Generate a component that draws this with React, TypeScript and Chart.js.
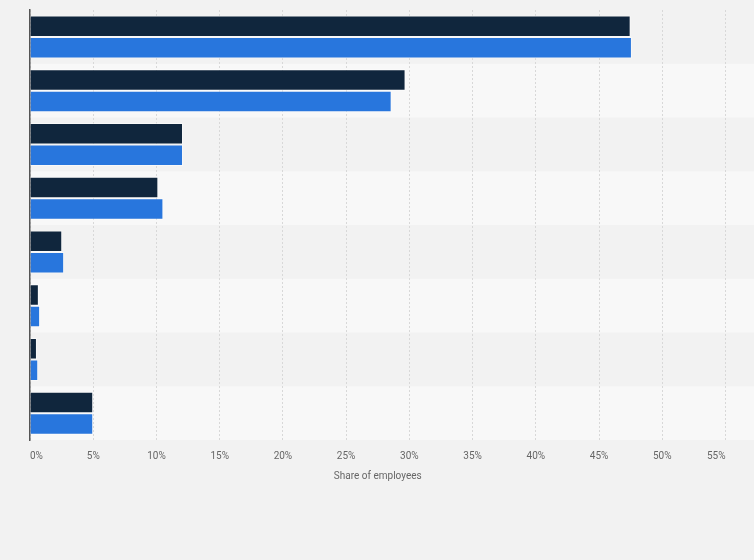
import React, { useEffect, useRef } from "react";
import { Chart, registerables } from "chart.js";

Chart.register(...registerables);

const categories = ["Group 1", "Group 2", "Group 3", "Group 4", "Group 5", "Group 6", "Group 7", "Group 8"];
const seriesDark = [47.5, 29.7, 12.1, 10.15, 2.55, 0.7, 0.55, 5.0];
const seriesBlue = [47.6, 28.6, 12.1, 10.55, 2.7, 0.8, 0.65, 5.0];
const seriesDarkName = "Series 1";
const seriesBlueName = "Series 2";
const xTicks = [0, 5, 10, 15, 20, 25, 30, 35, 40, 45, 50, 55];

const bandPlugin = {
  id: "bands",
  beforeDraw(chart: any) {
    const { ctx, chartArea, scales } = chart;
    ctx.save();
    ctx.fillStyle = "#f2f2f2";
    ctx.fillRect(0, 0, chart.width, chart.height);
    const y = scales.y;
    const n = categories.length;
    const h = (chartArea.bottom - chartArea.top) / n;
    ctx.fillStyle = "#f8f8f8";
    for (let i = 0; i < n; i++) {
      if (i % 2 === 1) {
        const c = y.getPixelForValue(i);
        ctx.fillRect(chartArea.left, c - h / 2, chart.width - chartArea.left, h);
      }
    }
    ctx.restore();
  },
};

export default function App() {
  const ref = useRef<HTMLCanvasElement>(null);
  useEffect(() => {
    document.body.style.margin = "0";
    const chart = new Chart(ref.current!, {
      type: "bar",
      data: {
        labels: categories,
        datasets: [
          {
            label: seriesDarkName,
            data: seriesDark,
            backgroundColor: "#10263d",
            borderColor: "rgba(255,255,255,0.55)",
            borderWidth: 1,
            categoryPercentage: 0.8,
            barPercentage: 1,
          },
          {
            label: seriesBlueName,
            data: seriesBlue,
            backgroundColor: "#2876dd",
            borderColor: "rgba(255,255,255,0.45)",
            borderWidth: 1,
            categoryPercentage: 0.8,
            barPercentage: 1,
          },
        ],
      },
      options: {
        indexAxis: "y",
        animation: false,
        responsive: false,
        devicePixelRatio: 1,
        layout: { padding: { left: 30, right: 28.5, top: 10, bottom: 78 } },
        plugins: { legend: { display: false }, tooltip: { enabled: false } },
        scales: {
          x: {
            min: 0,
            max: 55,
            afterBuildTicks(axis: any) {
              axis.ticks = xTicks.map((v) => ({ value: v }));
            },
            grid: {
              color: "#d8d8d8",
              lineWidth: 1,
              drawTicks: false,
            },
            border: { display: false, dash: [2, 2] },
            ticks: {
              align: "inner",
              padding: 10,
              color: "#666666",
              font: { family: "Roboto", size: 10 },
              callback: (v: any) => v + "%",
            },
            title: {
              display: true,
              text: "Share of employees",
              color: "#666666",
              font: { family: "Roboto", size: 10 },
              padding: { top: -2, bottom: 0 },
            },
          },
          y: {
            grid: { display: false, drawTicks: false },
            border: { display: true, color: "#555555", width: 1.5 },
            ticks: { display: false },
          },
        },
      },
      plugins: [bandPlugin],
    });
    return () => chart.destroy();
  }, []);
  return <canvas ref={ref} width={754} height={560} style={{ display: "block" }} />;
}
